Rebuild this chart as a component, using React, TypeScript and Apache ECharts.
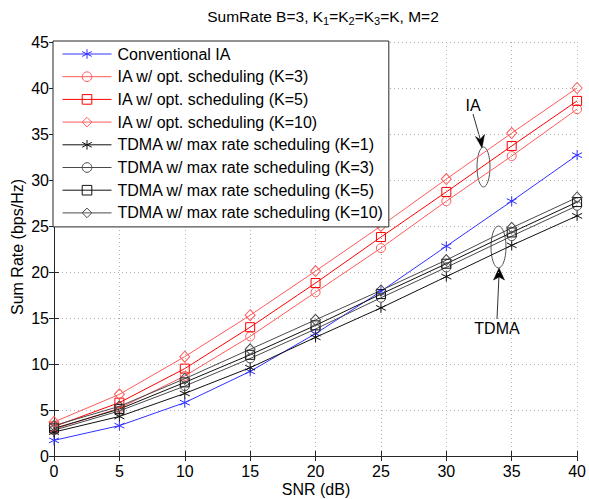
import React, { useEffect, useRef } from "react";
import * as echarts from "echarts";

const SNR = [0, 5, 10, 15, 20, 25, 30, 35, 40];
const convIA = [1.7, 3.3, 5.8, 9.2, 13.3, 17.9, 22.8, 27.7, 32.7];
const iaK3 = [2.9, 5.2, 8.7, 13.0, 17.8, 22.6, 27.7, 32.6, 37.7];
const iaK5 = [3.2, 5.8, 9.5, 14.0, 18.8, 23.8, 28.7, 33.7, 38.6];
const iaK10 = [3.7, 6.7, 10.8, 15.3, 20.1, 25.0, 30.1, 35.1, 40.0];
const tdmaK1 = [2.6, 4.3, 6.8, 9.6, 12.9, 16.1, 19.5, 22.9, 26.1];
const tdmaK3 = [2.8, 4.9, 7.6, 10.6, 13.8, 17.2, 20.5, 23.9, 27.2];
const tdmaK5 = [3.0, 5.1, 8.0, 11.0, 14.2, 17.6, 20.9, 24.3, 27.6];
const tdmaK10 = [3.3, 5.4, 8.4, 11.6, 14.8, 18.0, 21.3, 24.8, 28.1];

const seriesNames = [
  "Conventional IA",
  "IA w/ opt. scheduling (K=3)",
  "IA w/ opt. scheduling (K=5)",
  "IA w/ opt. scheduling (K=10)",
  "TDMA w/ max rate scheduling (K=1)",
  "TDMA w/ max rate scheduling (K=3)",
  "TDMA w/ max rate scheduling (K=5)",
  "TDMA w/ max rate scheduling (K=10)",
];

const STAR = "path://M5,0L5,10M0.67,2.5L9.33,7.5M0.67,7.5L9.33,2.5";
const FONT = "'Liberation Sans', Arial, sans-serif";

export default function App() {
  const ref = useRef<HTMLDivElement>(null);
  useEffect(() => {
    if (!ref.current) return;
    const chart = echarts.init(ref.current, undefined, { renderer: "svg" });
    const values = [convIA, iaK3, iaK5, iaK10, tdmaK1, tdmaK3, tdmaK5, tdmaK10];
    const colors = ["#3030ff", "#ff5a5a", "#ff0000", "#ff5a5a", "#111111", "#4a4a4a", "#111111", "#4a4a4a"];
    const symbols = [STAR, "circle", "rect", "diamond", STAR, "circle", "rect", "diamond"];
    const sizes: any[] = [10, 9, 9, [10, 11], 10, 9, 9, [10, 11]];
    const series = values.map((v, i) => ({
      name: seriesNames[i],
      type: "line",
      data: SNR.map((x, j) => [x, v[j]]),
      symbol: symbols[i],
      symbolSize: sizes[i],
      showAllSymbol: true,
      lineStyle: { color: colors[i], width: 1 },
      itemStyle: { color: "transparent", borderColor: colors[i], borderWidth: 1 },
      emphasis: { disabled: true },
      z: 3,
    }));
    const axisLine = { show: true, lineStyle: { color: "#262626", width: 1 } };
    const tick = { show: true, inside: true, length: 5, lineStyle: { color: "#262626" } };
    const grid = { show: true, lineStyle: { color: "#b0b0b0", type: [1, 3], width: 1 } };
    chart.setOption({
      animation: false,
      textStyle: { fontFamily: FONT },
      title: {
        text: "{a|SumRate B=3, K}{s|1}{a|=K}{s|2}{a|=K}{s|3}{a|=K, M=2}",
        left: 318,
        top: 1,
        textAlign: "center",
        textStyle: {
          fontWeight: "normal",
          rich: {
            a: { fontSize: 15.5, lineHeight: 20, color: "#000", fontFamily: FONT, fontWeight: "normal" },
            s: { fontSize: 11, lineHeight: 14, color: "#000", verticalAlign: "bottom", fontFamily: FONT, fontWeight: "normal" },
          },
        },
      },
      grid: { left: 54, right: 9, top: 42, bottom: 43 },
      legend: {
        orient: "vertical",
        left: 53,
        top: 41,
        itemWidth: 49,
        itemHeight: 12,
        itemGap: 6.7,
        padding: [5, 5, 6, 9],
        backgroundColor: "#fff",
        borderColor: "#262626",
        borderWidth: 1,
        borderRadius: 0,
        lineStyle: { width: 1 },
        itemStyle: { borderWidth: 1 },
        textStyle: { fontSize: 16, color: "#000", fontFamily: FONT, padding: [0, 0, 0, 1] },
        selectedMode: false,
        data: seriesNames,
        z: 10,
      },
      xAxis: [
        {
          type: "value",
          min: 0,
          max: 40,
          interval: 5,
          axisLine,
          axisTick: tick,
          splitLine: grid,
          axisLabel: { fontSize: 16, color: "#000", margin: 7, fontFamily: FONT },
        },
        {
          type: "value",
          position: "top",
          min: 0,
          max: 40,
          interval: 5,
          axisLine,
          axisTick: tick,
          splitLine: { show: false },
          axisLabel: { show: false },
        },
      ],
      yAxis: [
        {
          type: "value",
          min: 0,
          max: 45,
          interval: 5,
          axisLine,
          axisTick: tick,
          splitLine: grid,
          axisLabel: { fontSize: 16, color: "#000", margin: 5, fontFamily: FONT },
        },
        {
          type: "value",
          position: "right",
          min: 0,
          max: 45,
          interval: 5,
          axisLine,
          axisTick: tick,
          splitLine: { show: false },
          axisLabel: { show: false },
        },
      ],
      series,
      graphic: [
        {
          type: "text",
          x: 17,
          y: 247,
          rotation: Math.PI / 2,
          style: { text: "Sum Rate (bps/Hz)", fontSize: 16, fill: "#000", align: "center", verticalAlign: "middle", fontFamily: FONT },
        },
        {
          type: "text",
          x: 316,
          y: 489,
          style: { text: "SNR (dB)", fontSize: 16, fill: "#000", align: "center", verticalAlign: "middle", fontFamily: FONT },
        },
        {
          type: "text",
          x: 473,
          y: 105,
          style: { text: "IA", fontSize: 16, fill: "#000", align: "center", verticalAlign: "middle", fontFamily: FONT },
        },
        {
          type: "line",
          shape: { x1: 473, y1: 114, x2: 481, y2: 142 },
          style: { stroke: "#333", lineWidth: 1 },
        },
        {
          type: "polygon",
          shape: { points: [[482, 148], [475.5, 136.5], [480, 139.5], [484.5, 134.5]] },
          style: { fill: "#000", stroke: "#000", lineWidth: 0.5 },
        },
        {
          type: "ellipse",
          shape: { cx: 483.5, cy: 167, rx: 6.5, ry: 20 },
          style: { fill: "none", stroke: "#555", lineWidth: 1 },
        },
        {
          type: "text",
          x: 497,
          y: 328,
          style: { text: "TDMA", fontSize: 16, fill: "#000", align: "center", verticalAlign: "middle", fontFamily: FONT },
        },
        {
          type: "line",
          shape: { x1: 497, y1: 319, x2: 499, y2: 275 },
          style: { stroke: "#333", lineWidth: 1 },
        },
        {
          type: "polygon",
          shape: { points: [[499, 268], [504.5, 280], [499.2, 277], [493.5, 280]] },
          style: { fill: "#000", stroke: "#000", lineWidth: 0.5 },
        },
        {
          type: "ellipse",
          shape: { cx: 498.5, cy: 247, rx: 7.5, ry: 21 },
          style: { fill: "none", stroke: "#555", lineWidth: 1 },
        },
      ],
    });
    return () => chart.dispose();
  }, []);
  return <div ref={ref} style={{ width: 589, height: 499, position: "absolute", left: 0, top: 0 }} />;
}
